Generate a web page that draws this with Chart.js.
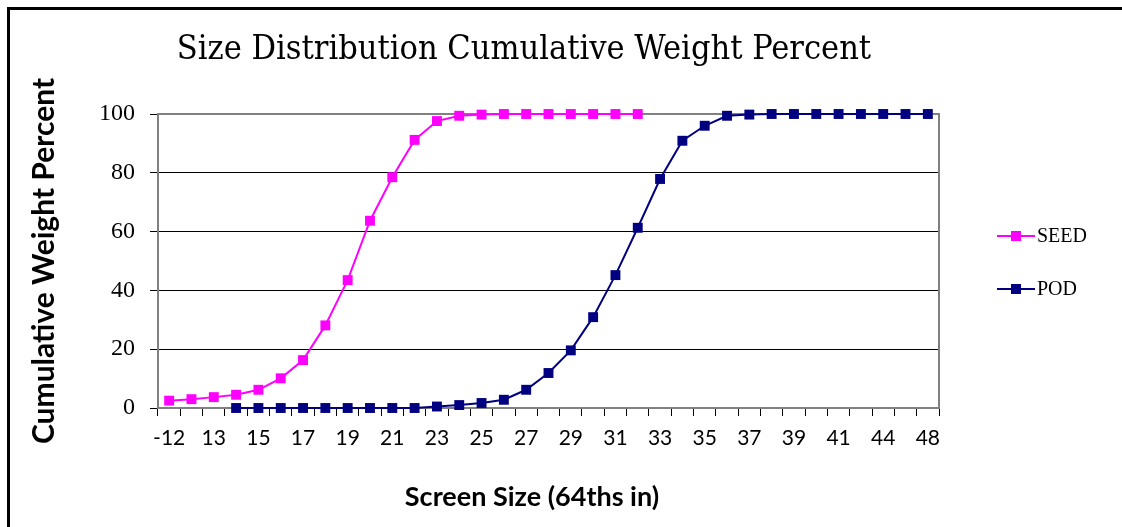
<!DOCTYPE html>
<html>
<head>
<meta charset="utf-8">
<title>Size Distribution Cumulative Weight Percent</title>
<script src="https://cdn.jsdelivr.net/npm/chart.js@4"></script>
<style>
  body { margin: 0; background: #fff; }
  #wrap { position: relative; width: 1122px; height: 527px; overflow: hidden; }
  #frame { position: absolute; left: 7px; top: 7px; width: 1140px; height: 560px; border: 3px solid #000; }
  canvas { position: absolute; left: 0; top: 0; }
</style>
</head>
<body>
<div id="wrap">
  <div id="frame"></div>
  <canvas id="sizeChart" width="1122" height="527"></canvas>
</div>
<script>
// Chart data
const chartTitle = 'Size Distribution Cumulative Weight Percent';
const xTitle = 'Screen Size (64ths in)';
const yTitle = 'Cumulative Weight Percent';

const screenSizes = ['-12', '12', '13', '14', '15', '16', '17', '18', '19', '20', '21', '22',
    '23', '24', '25', '26', '27', '28', '29', '30', '31', '32', '33', '34', '35', '36',
    '37', '38', '39', '40', '41', '42', '44', '46', '48'];

const seedValues = [2.5, 3.0, 3.7, 4.5, 6.2, 10.1, 16.3, 28.1, 43.5, 63.7, 78.5, 91.2,
    97.6, 99.4, 99.8, 100, 100, 100, 100, 100, 100, 100];

const podValues = [null, null, null, 0, 0, 0, 0, 0, 0, 0, 0, 0,
    0.5, 1.0, 1.7, 2.8, 6.2, 11.9, 19.6, 30.9, 45.2, 61.3, 77.9, 90.9,
    96.0, 99.4, 99.8, 100, 100, 100, 100, 100, 100, 100, 100];

const yTicks = [0, 20, 40, 60, 80, 100];

// Plot border, titles and legend drawn on the canvas
const framePlugin = {
    id: 'framePlugin',
    beforeDatasetsDraw(chart) {
        const ctx = chart.ctx;
        const a = chart.chartArea;
        ctx.save();
        ctx.strokeStyle = '#808080';
        ctx.lineWidth = 2;
        ctx.strokeRect(a.left, a.top, a.right - a.left, a.bottom - a.top);
        ctx.restore();
    },
    afterDraw(chart) {
        const ctx = chart.ctx;
        ctx.save();
        ctx.fillStyle = '#000';
        ctx.textAlign = 'center';
        ctx.textBaseline = 'middle';
        ctx.font = '34px "DejaVu Serif Condensed", "Liberation Serif", serif';
        ctx.fillText(chartTitle, 524, 50);
        ctx.font = 'bold 27px Lato, "Open Sans", sans-serif';
        ctx.fillText(xTitle, 532, 497);

        // legend
        const rows = [236, 289];
        ctx.textAlign = 'left';
        ctx.font = '20px "Liberation Serif", "Times New Roman", serif';
        chart.data.datasets.forEach((ds, i) => {
            const y = rows[i];
            ctx.strokeStyle = ds.borderColor;
            ctx.lineWidth = 2;
            ctx.beginPath();
            ctx.moveTo(997, y);
            ctx.lineTo(1035, y);
            ctx.stroke();
            ctx.fillStyle = ds.backgroundColor;
            ctx.fillRect(1011, y - 5, 10, 10);
            ctx.fillStyle = '#000';
            ctx.fillText(ds.label, 1037, y + 1);
        });
        ctx.restore();
    }
};

function drawChart() {
    const ctx = document.getElementById('sizeChart').getContext('2d');
    new Chart(ctx, {
        type: 'line',
        data: {
            labels: screenSizes,
            datasets: [
                {
                    label: 'SEED',
                    data: seedValues,
                    borderColor: '#ff00ff',
                    backgroundColor: '#ff00ff',
                    borderWidth: 2,
                    pointStyle: 'rect',
                    pointRadius: 7,
                    pointBorderWidth: 0,
                    tension: 0,
                    clip: false,
                },
                {
                    label: 'POD',
                    data: podValues,
                    borderColor: '#000080',
                    backgroundColor: '#000080',
                    borderWidth: 2,
                    pointStyle: 'rect',
                    pointRadius: 7,
                    pointBorderWidth: 0,
                    tension: 0,
                    clip: false,
                },
            ],
        },
        options: {
            responsive: false,
            animation: false,
            layout: { padding: { left: 22, right: 183, top: 114, bottom: 14 } },
            plugins: {
                legend: { display: false },
                tooltip: { enabled: false },
                title: { display: false },
            },
            scales: {
                x: {
                    offset: true,
                    grid: { offset: true, drawOnChartArea: false, color: '#000', tickLength: 8 },
                    border: { display: false },
                    ticks: {
                        autoSkip: false,
                        maxRotation: 0,
                        padding: 10,
                        color: '#000',
                        font: { family: 'Lato, "Open Sans", sans-serif', size: 21 },
                        callback: (v, i) => (i % 2 === 0 ? screenSizes[i] : ''),
                    },
                    afterFit: s => { s.height = 105; },
                },
                y: {
                    min: 0,
                    max: 100,
                    afterBuildTicks: s => { s.ticks = yTicks.map(v => ({ value: v })); },
                    grid: { color: '#000', lineWidth: 1, tickLength: 8 },
                    border: { color: '#808080', width: 2 },
                    ticks: {
                        padding: 15,
                        color: '#000',
                        font: { family: '"Liberation Serif", serif', size: 24 },
                    },
                    title: {
                        display: true,
                        text: yTitle,
                        color: '#000',
                        font: { family: 'Lato, "Open Sans", sans-serif', size: 30, weight: 'bold' },
                        padding: { top: 4, bottom: 4 },
                    },
                    afterFit: s => { s.width = 136; },
                },
            },
        },
        plugins: [framePlugin],
    });
}

window.onload = () => {
    drawChart();
};
</script>
</body>
</html>
